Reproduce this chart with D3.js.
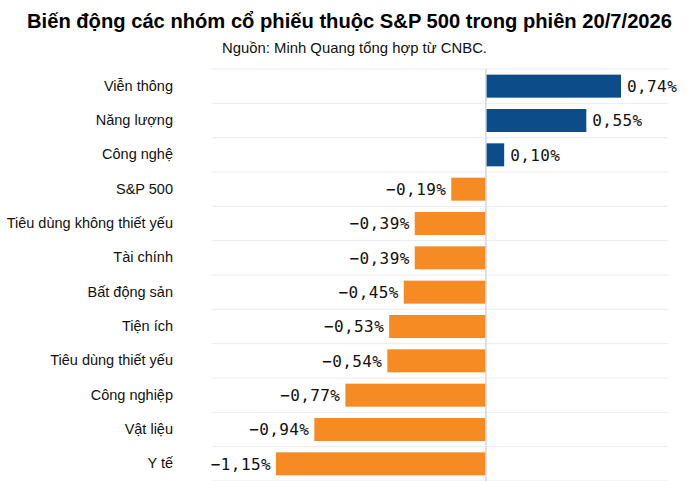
<!DOCTYPE html>
<html>
<head>
<meta charset="utf-8">
<script src="https://cdn.jsdelivr.net/npm/d3@7"></script>
<style>
  body { margin: 0; background: #fff; }
  svg { display: block; }
</style>
</head>
<body>
<div id="vis"></div>
<script>
// data
const categories = ['Viễn thông', 'Năng lượng', 'Công nghệ', 'S&P 500', 'Tiêu dùng không thiết yếu',
  'Tài chính', 'Bất động sản', 'Tiện ích', 'Tiêu dùng thiết yếu', 'Công nghiệp', 'Vật liệu', 'Y tế']
const changes = [0.74, 0.55, 0.10, -0.19, -0.39, -0.39, -0.45, -0.53, -0.54, -0.77, -0.94, -1.15]

const title = 'Biến động các nhóm cổ phiếu thuộc S&P 500 trong phiên 20/7/2026'
const subtitle = 'Nguồn: Minh Quang tổng hợp từ CNBC.'

const w = 700, h = 481
const rows = categories.map((c, i) => ({ name: c, value: changes[i] }))

const svg = d3.select('#vis').append('svg').attr('width', w).attr('height', h)

svg.append('text')
  .attr('x', 349.5).attr('y', 28)
  .attr('text-anchor', 'middle')
  .style('font-family', 'Liberation Sans')
  .style('font-weight', 'bold')
  .style('font-size', '19.5px')
  .attr('textLength', 645)
  .attr('lengthAdjust', 'spacingAndGlyphs')
  .text(title)

svg.append('text')
  .attr('x', 354.5).attr('y', 53)
  .attr('text-anchor', 'middle')
  .style('font-family', 'Liberation Sans')
  .style('font-size', '14.5px')
  .attr('textLength', 265)
  .attr('lengthAdjust', 'spacingAndGlyphs')
  .attr('fill', '#111')
  .text(subtitle)

const x = d3.scaleLinear().domain([-1.15, 0.74]).range([276, 621])
const y = d3.scaleBand().domain(categories).range([69, 481]).paddingInner(0.33).paddingOuter(0.165)
const step = y.step()

// row separators
svg.append('g').selectAll('line')
  .data(d3.range(categories.length + 1))
  .join('line')
  .attr('x1', 212).attr('x2', 668)
  .attr('y1', i => 69 + i * step).attr('y2', i => 69 + i * step)
  .attr('stroke', '#ebebeb').attr('stroke-width', 1)

svg.append('g').selectAll('rect')
  .data(rows)
  .join('rect')
  .attr('x', d => Math.min(x(0), x(d.value)))
  .attr('width', d => Math.abs(x(d.value) - x(0)))
  .attr('y', d => y(d.name))
  .attr('height', y.bandwidth())
  .attr('fill', d => d.value >= 0 ? '#0b4c89' : '#f68a23')

// zero line
svg.append('line')
  .attr('x1', x(0)).attr('x2', x(0))
  .attr('y1', 69).attr('y2', 481)
  .attr('stroke', '#cfd8e0').attr('stroke-width', 1.5)

// category labels
const yAxis = d3.axisLeft(y).tickSize(0).tickPadding(0)
svg.append('g')
  .attr('transform', 'translate(173,0)')
  .call(yAxis)
  .call(g => g.select('.domain').remove())
  .selectAll('text')
  .style('font-family', 'Liberation Sans')
  .style('font-size', '14.5px')
  .attr('fill', '#111')

const fmt = v => (v < 0 ? '\u2212' : '') + Math.abs(v).toFixed(2).replace('.', ',') + '%'

svg.append('g').selectAll('text')
  .data(rows)
  .join('text')
  .attr('x', d => d.value >= 0 ? x(d.value) + 6 : x(d.value) - 5)
  .attr('y', d => y(d.name) + y.bandwidth() / 2)
  .attr('dy', '0.36em')
  .attr('text-anchor', d => d.value >= 0 ? 'start' : 'end')
  .style('font-family', 'DejaVu Sans Mono')
  .style('font-size', '16px')
  .style('letter-spacing', '0.4px')
  .attr('fill', '#111')
  .text(d => fmt(d.value))
</script>
</body>
</html>
